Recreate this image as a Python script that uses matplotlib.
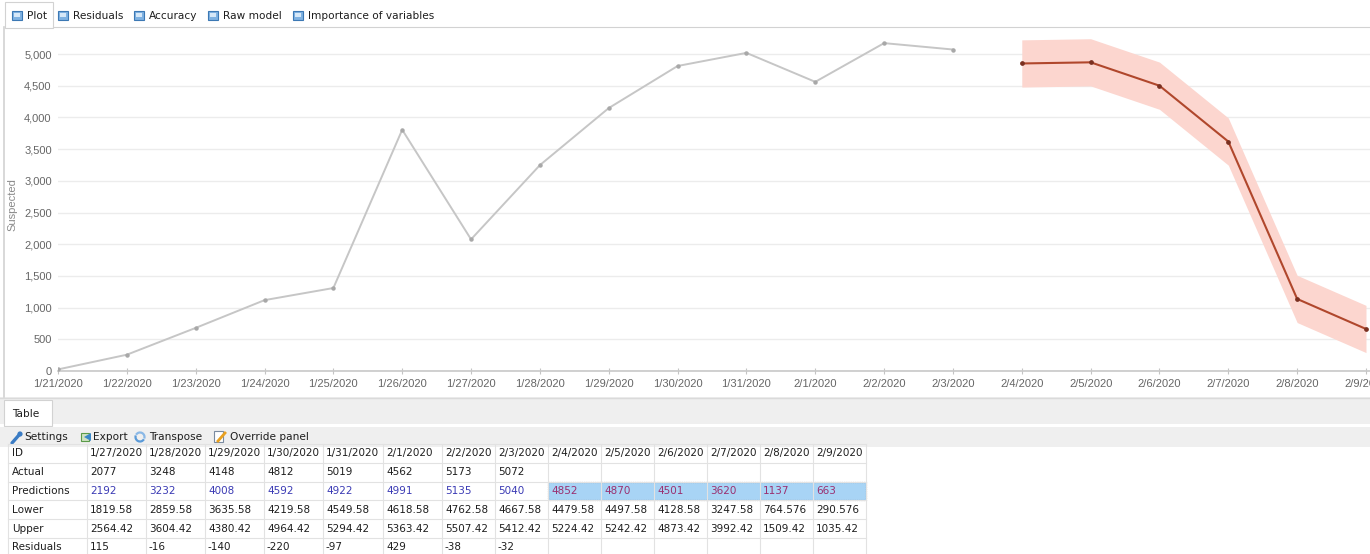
import matplotlib
matplotlib.use("Agg")
import matplotlib.pyplot as plt
from matplotlib.patches import Rectangle, Polygon, Circle, Arc
from matplotlib.lines import Line2D

# ---------------- data ----------------
dates = ["1/21/2020", "1/22/2020", "1/23/2020", "1/24/2020", "1/25/2020",
         "1/26/2020", "1/27/2020", "1/28/2020", "1/29/2020", "1/30/2020",
         "1/31/2020", "2/1/2020", "2/2/2020", "2/3/2020", "2/4/2020",
         "2/5/2020", "2/6/2020", "2/7/2020", "2/8/2020", "2/9/2020"]
actual = [25, 257, 680, 1118, 1309, 3806, 2077, 3248, 4148, 4812,
          5019, 4562, 5173, 5072]

table_dates = dates[6:]
table_actual = actual[6:]
table_pred = [2192, 3232, 4008, 4592, 4922, 4991, 5135, 5040,
              4852, 4870, 4501, 3620, 1137, 663]
table_lower = [1819.58, 2859.58, 3635.58, 4219.58, 4549.58, 4618.58, 4762.58,
               4667.58, 4479.58, 4497.58, 4128.58, 3247.58, 764.576, 290.576]
table_upper = [2564.42, 3604.42, 4380.42, 4964.42, 5294.42, 5363.42, 5507.42,
               5412.42, 5224.42, 5242.42, 4873.42, 3992.42, 1509.42, 1035.42]
table_resid = [115, -16, -140, -220, -97, 429, -38, -32]

n_hist = len(actual)
forecast = table_pred[len(table_actual):]
fc_lower = table_lower[len(table_actual):]
fc_upper = table_upper[len(table_actual):]

tabs = ["Plot", "Residuals", "Accuracy", "Raw model", "Importance of variables"]
tools = ["Settings", "Export", "Transpose", "Override panel"]
row_names = ["ID", "Actual", "Predictions", "Lower", "Upper", "Residuals"]

# ---------------- figure ----------------
W, H = 1370, 554
fig = plt.figure(figsize=(W / 100, H / 100), dpi=100)
fig.patch.set_facecolor("white")

ui = fig.add_axes([0, 0, 1, 1])
ui.set_xlim(0, W)
ui.set_ylim(H, 0)
ui.axis("off")

UI_FONT = dict(family="DejaVu Sans", fontsize=7.6, color="#1e1e1e", va="center")
EDGE = "#d2d2d2"


def tab_icon(x, y):
    ui.add_patch(Rectangle((x, y), 10, 9, facecolor="#7fb2e2", edgecolor="#3c78b4", lw=0.8))
    ui.add_patch(Rectangle((x + 2, y + 2), 6, 4, facecolor="#d6e8f8", edgecolor="none"))


# top tab strip
ui.add_patch(Rectangle((5, 2), 48, 26, facecolor="white", edgecolor=EDGE, lw=0.8))
ui.add_line(Line2D([53, W], [27, 27], color=EDGE, lw=0.8))
ui.add_line(Line2D([4, 4], [27, 397], color=EDGE, lw=1.2))
tab_x = [12, 58, 134, 208, 293]
for tx, name in zip(tab_x, tabs):
    tab_icon(tx, 11)
    ui.text(tx + 15, 16, name, **UI_FONT)

# chart panel bottom border and table tab strip
ui.add_patch(Rectangle((0, 397), W, 27, facecolor="#efefef", edgecolor="none"))
ui.add_line(Line2D([0, W], [397.5, 397.5], color="#dadada", lw=1))
ui.add_patch(Rectangle((4, 400), 48, 26, facecolor="white", edgecolor=EDGE, lw=0.8))
ui.text(12, 414, "Table", **UI_FONT)

# toolbar
ui.add_patch(Rectangle((0, 427), W, 20, facecolor="#efefef", edgecolor="none"))
# settings (wrench)
ui.add_line(Line2D([12, 19], [443, 435], color="#3b7cc4", lw=2.4, solid_capstyle="round"))
ui.add_patch(Circle((20, 434), 2.6, facecolor="#3b7cc4", edgecolor="none"))
ui.text(24, 437, tools[0], **UI_FONT)
# export
ui.add_patch(Rectangle((81, 433), 8, 8, facecolor="#cfe3c2", edgecolor="#5a9a48", lw=0.8))
ui.add_patch(Polygon([[84, 437], [91, 433], [91, 441]], closed=True, facecolor="#3a88c8", edgecolor="none"))
ui.text(93, 437, tools[1], **UI_FONT)
# transpose
ui.add_patch(Arc((140, 437), 9, 9, theta1=30, theta2=200, color="#5a9ad8", lw=1.6))
ui.add_patch(Arc((140, 437), 9, 9, theta1=210, theta2=380, color="#8ab8e6", lw=1.6))
ui.text(149, 437, tools[2], **UI_FONT)
# override panel
ui.add_patch(Rectangle((214, 431), 9, 11, facecolor="white", edgecolor="#7a8aa0", lw=0.8))
ui.add_line(Line2D([218, 225], [441, 433], color="#e8a020", lw=2))
ui.text(230, 437, tools[3], **UI_FONT)

# ---------------- table ----------------
col_x = [8, 87, 146, 205, 264, 323, 383, 442, 495, 548, 601, 654, 707, 760, 813, 866]
row_top = 444.0
row_h = 18.8
n_rows = len(row_names)

GRID = "#e2e2e2"
for r in range(n_rows + 1):
    y = row_top + r * row_h
    ui.add_line(Line2D([col_x[0], col_x[-1]], [y, y], color=GRID, lw=0.8))
for x in col_x:
    ui.add_line(Line2D([x, x], [row_top, row_top + n_rows * row_h], color=GRID, lw=0.8))

# selected forecast cells
first_fc = len(table_actual)
sel_x0 = col_x[1 + first_fc]
sel_x1 = col_x[-1]
sel_y0 = row_top + 2 * row_h
ui.add_patch(Rectangle((sel_x0, sel_y0), sel_x1 - sel_x0, row_h,
                       facecolor="#a8d4f5", edgecolor="#404040", lw=0.8, linestyle=(0, (1, 1))))

TXT = dict(family="DejaVu Sans", fontsize=7.5, va="center", ha="left")


def fmt(v):
    return "%.6g" % v


for r, name in enumerate(row_names):
    yc = row_top + (r + 0.5) * row_h
    ui.text(col_x[0] + 4, yc, name, color="#1e1e1e", **TXT)

for c in range(len(table_dates)):
    x = col_x[1 + c] + 3
    ui.text(x, row_top + 0.5 * row_h, table_dates[c], color="#1e1e1e", **TXT)
    if c < len(table_actual):
        ui.text(x, row_top + 1.5 * row_h, str(table_actual[c]), color="#1e1e1e", **TXT)
        ui.text(x, row_top + 5.5 * row_h, str(table_resid[c]), color="#1e1e1e", **TXT)
    pcol = "#3a3ab4" if c < len(table_actual) else "#9a3070"
    ui.text(x, row_top + 2.5 * row_h, str(table_pred[c]), color=pcol, **TXT)
    ui.text(x, row_top + 3.5 * row_h, fmt(table_lower[c]), color="#1e1e1e", **TXT)
    ui.text(x, row_top + 4.5 * row_h, fmt(table_upper[c]), color="#1e1e1e", **TXT)

# ---------------- chart ----------------
ax_l, ax_r, ax_b, ax_t = 58, W, 371, 30
ax = fig.add_axes([ax_l / W, (H - ax_b) / H, (ax_r - ax_l) / W, (ax_b - ax_t) / H])
ax.set_facecolor("none")

x_hist = list(range(n_hist))
x_fc = list(range(n_hist, n_hist + len(forecast)))

ax.fill_between(x_fc, fc_lower, fc_upper, color="#fcd6cf", lw=0, zorder=1)
ax.plot(x_hist, actual, color="#c6c6c6", lw=1.4, marker="o", ms=2.2,
        mfc="#a8a8a8", mec="#a8a8a8", zorder=3)
ax.plot(x_fc, forecast, color="#b0472c", lw=1.5, marker="o", ms=2.4,
        mfc="#7a3020", mec="#7a3020", zorder=4)

ax.set_xlim(0, 19 + 4 / 68.8)
ax.set_ylim(0, 5380)

ax.set_yticks(range(0, 5001, 500))
ax.set_yticklabels(["{:,}".format(v) for v in range(0, 5001, 500)])
ax.set_xticks(range(len(dates)))
ax.set_xticklabels(dates)

CHART_FONT = "Liberation Sans"
for lab in ax.get_xticklabels() + ax.get_yticklabels():
    lab.set_fontfamily(CHART_FONT)
    lab.set_fontsize(8)
    lab.set_color("#666666")

ax.tick_params(axis="y", length=0, pad=4.5)
ax.tick_params(axis="x", direction="inout", length=5, color="#c4c4c4", pad=3)

ax.yaxis.grid(True, color="#ececec", lw=1)
ax.set_axisbelow(True)
for s in ("left", "right", "top"):
    ax.spines[s].set_visible(False)
ax.spines["bottom"].set_color("#c8c8c8")
ax.spines["bottom"].set_linewidth(1.2)

ax.set_ylabel("Suspected", fontfamily=CHART_FONT, fontsize=8, color="#8a8a8a")
ax.yaxis.set_label_coords((17 - ax_l) / (ax_r - ax_l), (ax_b - 205) / (ax_b - ax_t))

fig.savefig("out.png", dpi=100, facecolor="white")
